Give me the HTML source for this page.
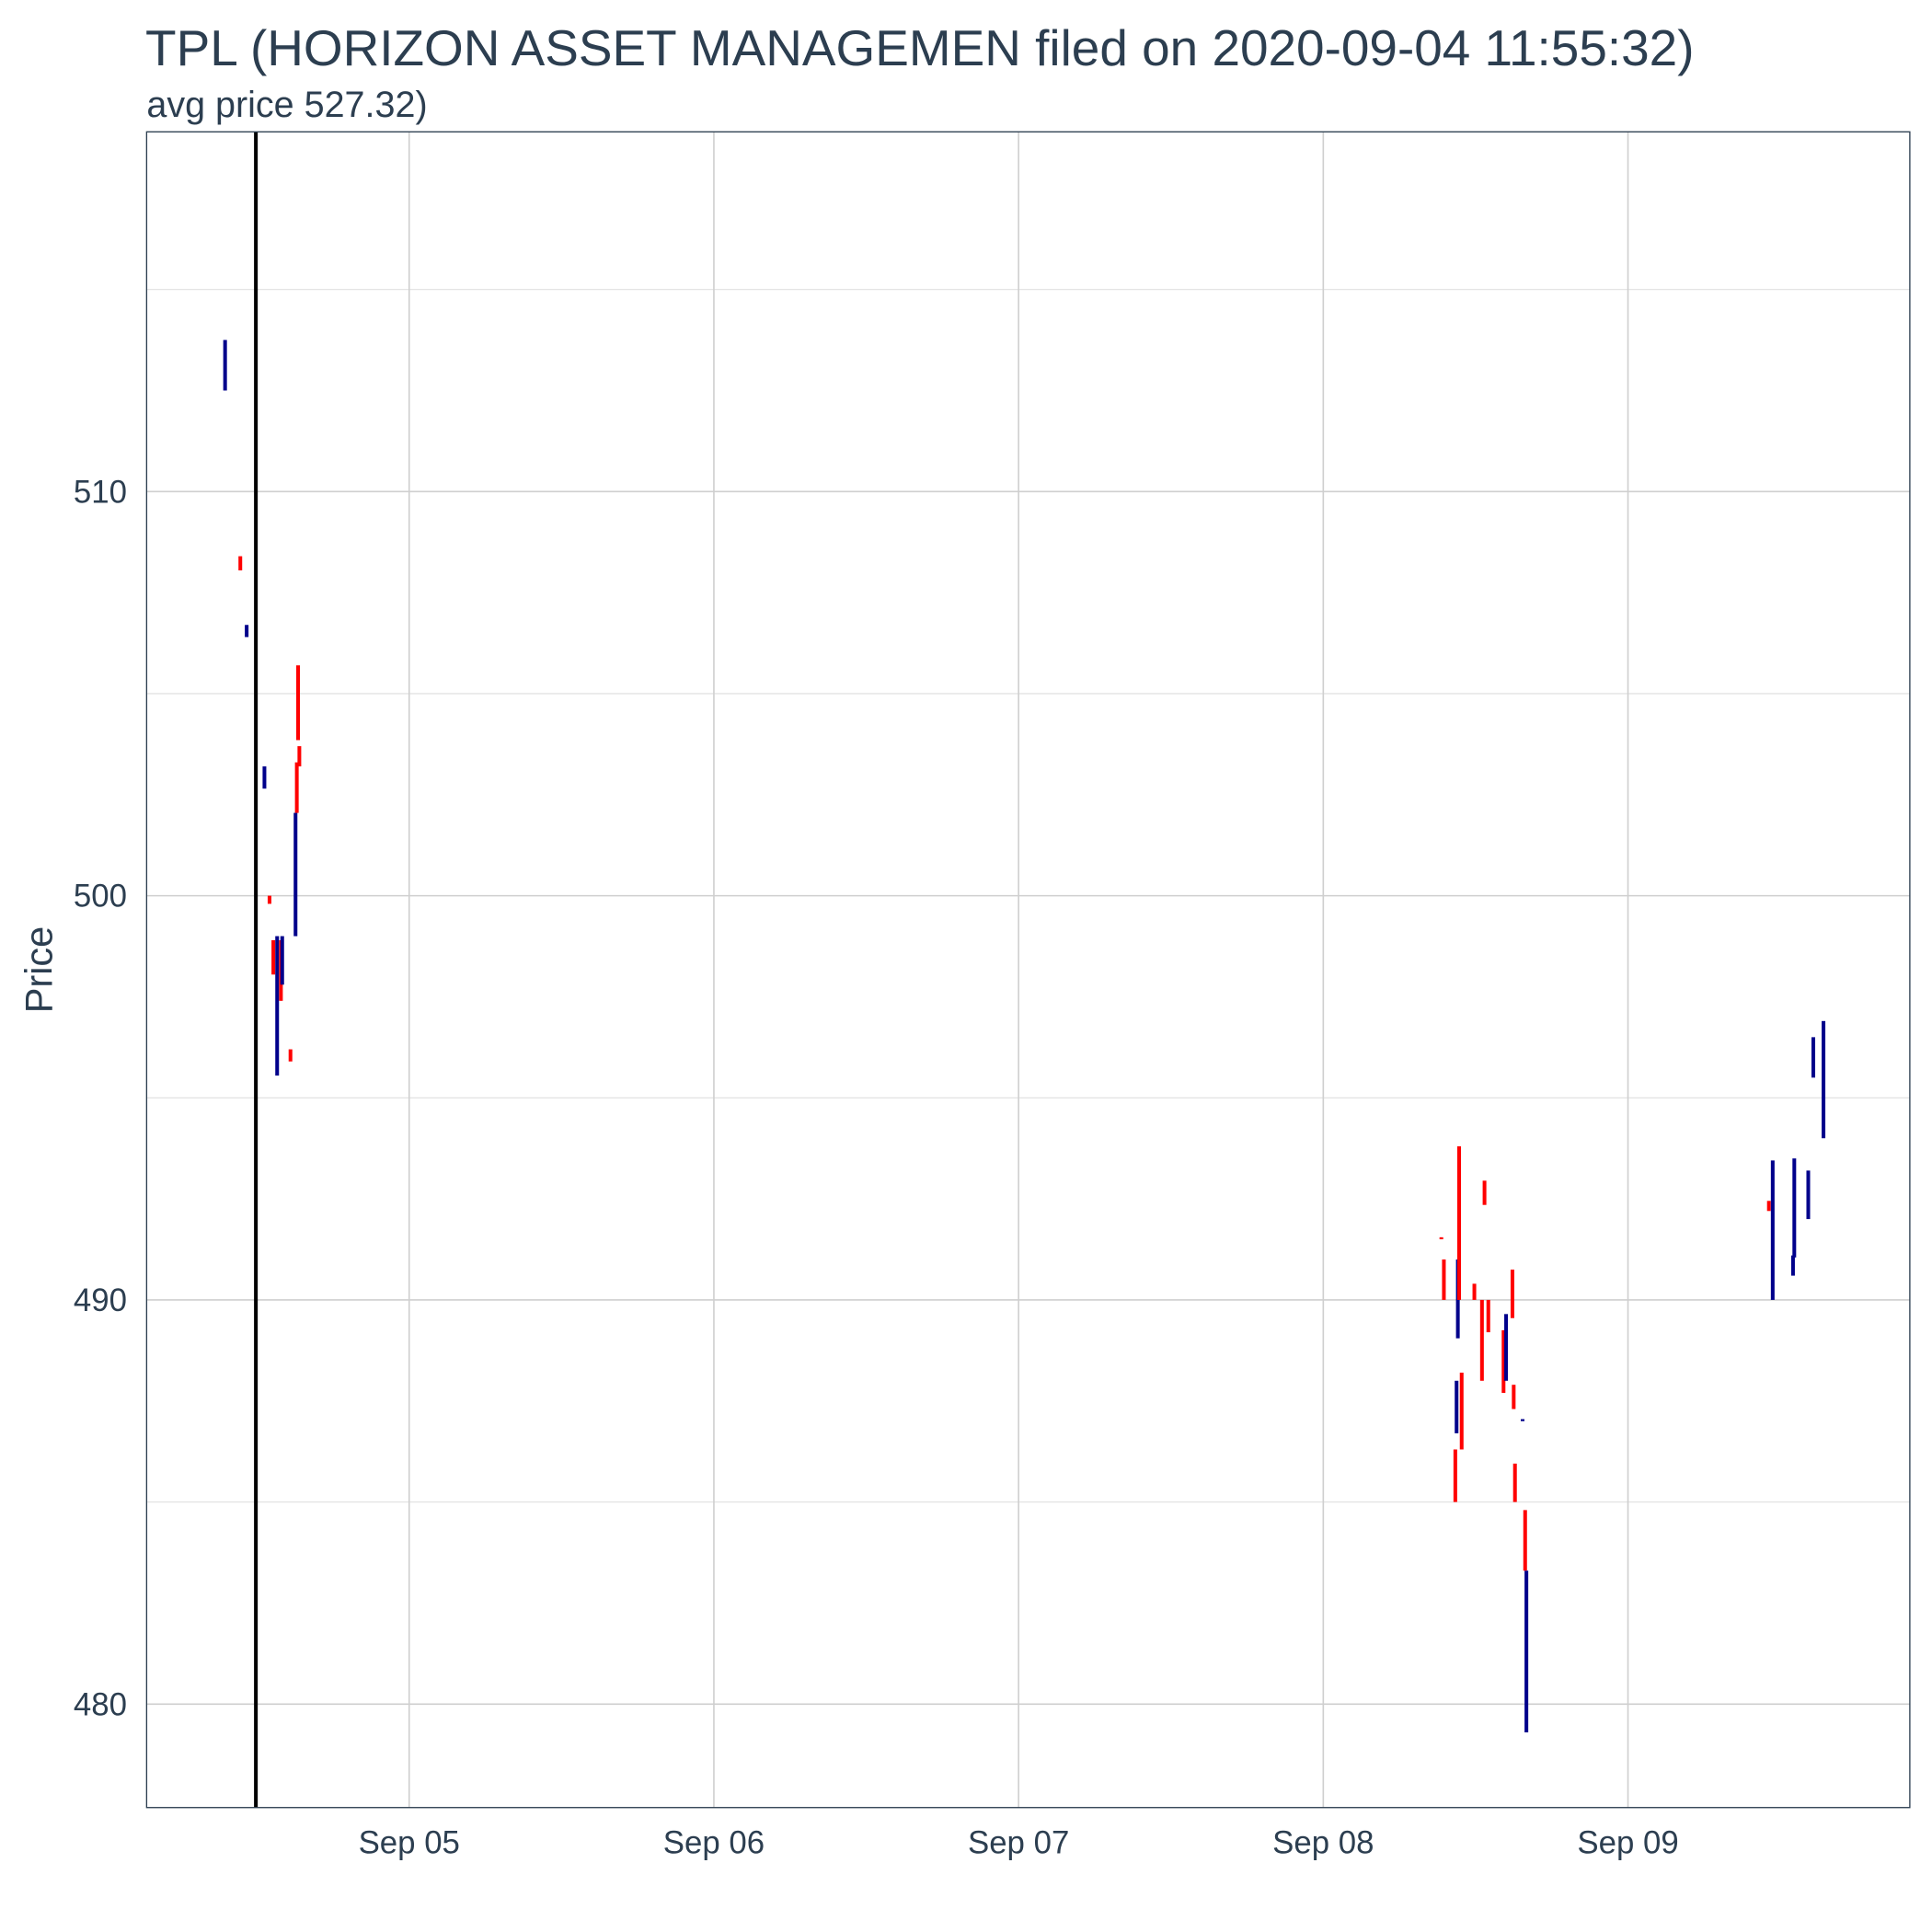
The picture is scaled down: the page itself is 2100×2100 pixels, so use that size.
<!DOCTYPE html>
<html><head><meta charset="utf-8"><style>
html,body{margin:0;padding:0;background:#fff;}
svg{display:block;font-family:"Liberation Sans",sans-serif;}
</style></head><body>
<svg id="chart" width="2100" height="2100" viewBox="0 0 1568 1568" xmlns="http://www.w3.org/2000/svg">
<rect x="0" y="0" width="1568" height="1568" fill="#fff"/>
<text x="118" y="53" font-size="41" fill="#2c3e50">TPL (HORIZON ASSET MANAGEMEN filed on 2020-09-04 11:55:32)</text>
<text x="119" y="95" font-size="29.5" fill="#2c3e50">avg price 527.32)</text>
<text transform="translate(42,787) rotate(-90)" text-anchor="middle" font-size="31" fill="#2c3e50">Price</text>
<g id="grid"></g>
<g id="marks"></g>
<g id="axes"></g>
</svg>
<script>
// hours since 2020-09-04 00:00
const times = [9.5,10.7,11.2,12.6,13.0,13.3,13.6,13.9,14.0,14.65,15.05,15.15,15.25,15.35,
105.3,105.5,106.4,106.5,106.6,106.7,106.9,107.9,108.5,108.7,109.0,110.2,110.4,110.9,111.0,111.1,111.7,111.9,112.0,
131.1,131.4,133.0,133.1,134.2,134.6,135.4];
const opens = [513.75,508.4,506.7,503.2,500.0,498.9,499.0,498.9,499.0,496.2,502.05,503.3,505.7,503.7,
491.55,491.0,486.3,488.0,491.0,493.8,488.2,490.4,490.0,492.95,490.0,489.25,489.65,490.75,487.9,485.95,487.05,484.8,483.3,
492.45,493.45,491.1,493.5,493.2,496.5,496.9];
const closes = [512.5,508.05,506.4,502.65,499.8,498.05,495.55,497.4,497.8,495.9,499.0,502.05,503.85,503.2,
491.5,490.0,485.0,486.7,489.05,490.0,486.3,490.0,488.0,492.35,489.2,487.7,488.0,489.55,487.3,485.0,487.0,483.3,479.3,
492.2,490.0,490.6,491.05,492.0,495.5,494.0];
const colors = ["b","r","b","b","r","r","b","r","b","r","b","r","r","r",
"r","r","r","b","b","r","r","r","r","r","r","r","b","r","r","r","b","r","b",
"r","b","b","b","b","b","b"];
const yTicks = [480,490,500,510];
const yMinor = [485,495,505,515];
const xTickLabels = ["Sep 05","Sep 06","Sep 07","Sep 08","Sep 09"];
const xTickHours = [24,48,72,96,120];
const filingHour = 11.925;

const L=119,R=1550,T=107,B=1467;
const x0=3.32,x1=142.2,y0=477.44,y1=518.9;
const X=h=>L+(h-x0)/(x1-x0)*(R-L);
const Y=v=>B-(v-y0)/(y1-y0)*(B-T);
const NS="http://www.w3.org/2000/svg";
function mk(tag,attrs,parent){const e=document.createElementNS(NS,tag);for(const k in attrs)e.setAttribute(k,attrs[k]);parent.appendChild(e);return e;}
const grid=document.getElementById('grid'),marks=document.getElementById('marks'),axes=document.getElementById('axes');
yMinor.forEach(v=>{const e=mk('line',{x1:L,x2:R,y1:Y(v),y2:Y(v),stroke:'#e4e4e4','stroke-width':1},grid);

});
yTicks.forEach(v=>{const e=mk('line',{x1:L,x2:R,y1:Y(v),y2:Y(v),stroke:'#cfcfcf','stroke-width':1.2},grid);


const t=mk('text',{x:103,y:Y(v)+9,'text-anchor':'end','font-size':26,fill:'#2c3e50'},axes);t.textContent=v;

});
xTickHours.forEach((h,i)=>{const e=mk('line',{x1:X(h),x2:X(h),y1:T,y2:B,stroke:'#cfcfcf','stroke-width':1.2},grid);


const t=mk('text',{x:X(h),y:1504,'text-anchor':'middle','font-size':26,fill:'#2c3e50'},axes);t.textContent=xTickLabels[i];

});
times.forEach((h,i)=>{const a=Y(opens[i]),b=Y(closes[i]);const top=Math.min(a,b),hh=Math.max(Math.abs(a-b),1.2);
const e=mk('rect',{x:X(h)-1.5,y:top,width:3,height:hh,fill:colors[i]==='r'?'#ff0000':'#00008b'},marks);

});
const fl=mk('line',{x1:X(filingHour),x2:X(filingHour),y1:T,y2:B,stroke:'#000','stroke-width':3},axes);


const fr=mk('rect',{x:L,y:T,width:R-L,height:B-T,fill:'none',stroke:'#2c3e50','stroke-width':1},axes);


</script>
</body></html>
